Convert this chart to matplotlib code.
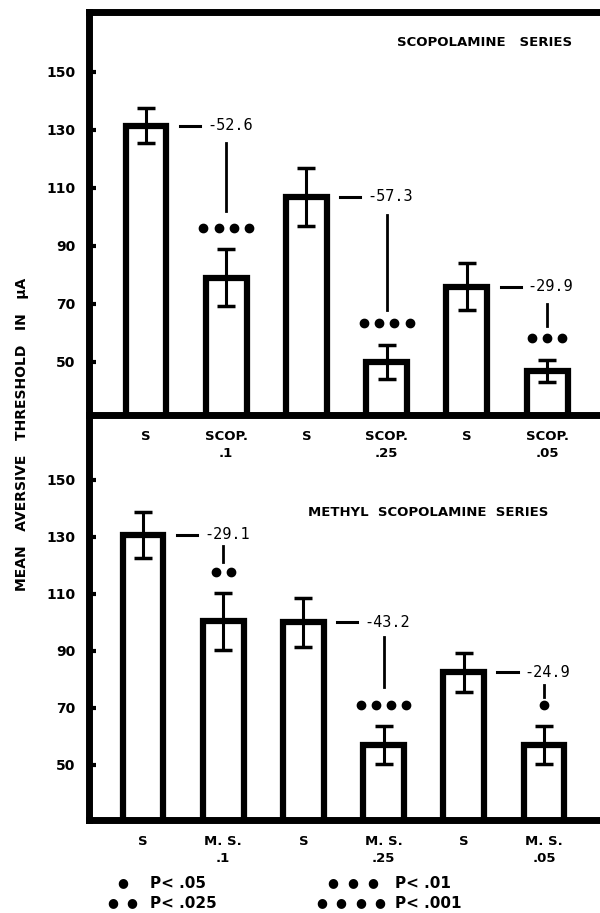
import matplotlib.pyplot as plt

# scopolamine series
scop_labels = ["S", "SCOP.\n.1", "S", "SCOP.\n.25", "S", "SCOP.\n.05"]
scop_means = [131.5, 79, 107, 50, 76, 47]
scop_err = [6, 9.8, 10, 6, 8, 3.8]
scop_diff = ["-52.6", "-57.3", "-29.9"]
scop_sig = [4, 4, 3]

# methyl scopolamine series
ms_labels = ["S", "M. S.\n.1", "S", "M. S.\n.25", "S", "M. S.\n.05"]
ms_means = [130.7, 100.5, 100, 57, 82.5, 57]
ms_err = [8, 10, 8.6, 6.6, 6.8, 6.7]
ms_diff = ["-29.1", "-43.2", "-24.9"]
ms_sig = [2, 4, 1]

yticks = [50, 70, 90, 110, 130, 150]

fig = plt.figure(figsize=(6, 9.13), dpi=100)
ax1 = fig.add_axes([0.1483, 0.5455, 0.8517, 0.4414])
ax2 = fig.add_axes([0.1483, 0.1019, 0.8517, 0.4436])
ax1.set_zorder(3)
ax1.patch.set_alpha(0)


def panel(ax, labels, means, errs, diffs, sigs, title, ylim, xlim, top_spine,
          vgap_top, vgap_bot):
    x = list(range(len(means)))
    ax.bar(x, means, width=0.51, color="white", edgecolor="black",
           linewidth=4.5, zorder=2)
    ax.errorbar(x, means, yerr=errs, fmt="none", ecolor="black",
                elinewidth=2.2, capsize=6.5, capthick=2.5, zorder=3)
    for k in range(3):
        s = 2 * k
        d = s + 1
        ym = means[s]
        ax.plot([s + 0.42, s + 0.67], [ym, ym], color="black", lw=2.2)
        ax.text(s + 0.76, ym, diffs[k], fontsize=11, va="center", ha="left",
                family="DejaVu Sans Mono")
        ydot = means[d] + errs[d] + 7.3
        n = sigs[k]
        xs = [d + (j - (n - 1) / 2) * 0.19 for j in range(n)]
        ax.plot(xs, [ydot] * n, "o", color="black", ms=6)
        ax.plot([d, d], [ym - vgap_top[k], ydot + vgap_bot[k]],
                color="black", lw=2)
    ax.set_xlim(*xlim)
    ax.set_ylim(*ylim)
    ax.set_yticks(yticks)
    ax.set_yticklabels([str(v) for v in yticks], fontsize=10, fontweight="bold")
    ax.tick_params(axis="y", direction="in", length=5, width=3, pad=10)
    ax.set_xticks(x)
    ax.set_xticklabels(labels, fontsize=9.5, fontweight="bold",
                       linespacing=1.4)
    ax.tick_params(axis="x", length=0, pad=11)
    for side in ["left", "bottom", "top"]:
        ax.spines[side].set_linewidth(5)
    ax.spines["right"].set_visible(False)
    ax.spines["top"].set_visible(top_spine)
    ax.text(title[1], title[2], title[0], transform=ax.transAxes, ha="right",
            va="center", fontsize=9.5, fontweight="bold")


panel(ax1, scop_labels, scop_means, scop_err, scop_diff, scop_sig,
      ("SCOPOLAMINE   SERIES", 0.945, 0.925), (31.7, 170.7), (-0.711, 5.66),
      True, [6, 6.2, 6.2], [6, 4.5, 4.2])
panel(ax2, ms_labels, ms_means, ms_err, ms_diff, ms_sig,
      ("METHYL  SCOPOLAMINE  SERIES", 0.898, 0.76), (30.7, 172.8),
      (-0.673, 5.698), False, [4, 5, 4.5], [3.5, 6.5, 2.8])

fig.text(0.037, 0.524, "MEAN   AVERSIVE   THRESHOLD   IN   μA", rotation=90,
         ha="center", va="center", fontsize=10, fontweight="bold")

# legend for significance dots
leg_text = ["P< .05", "P< .025", "P< .01", "P< .001"]
leg_dots = [[123], [113, 132], [333, 353, 373], [322, 341, 361, 380]]
leg_pos = [(150, 883), (150, 903), (395, 883), (395, 903)]
for txt, dots, (xt, yp) in zip(leg_text, leg_dots, leg_pos):
    for xd in dots:
        fig.text(xd / 600, 1 - yp / 913, "●", ha="center", va="center",
                 fontsize=9)
    fig.text(xt / 600, 1 - yp / 913, txt, ha="left", va="center", fontsize=11,
             fontweight="bold")

fig.savefig("out.png", dpi=100)
